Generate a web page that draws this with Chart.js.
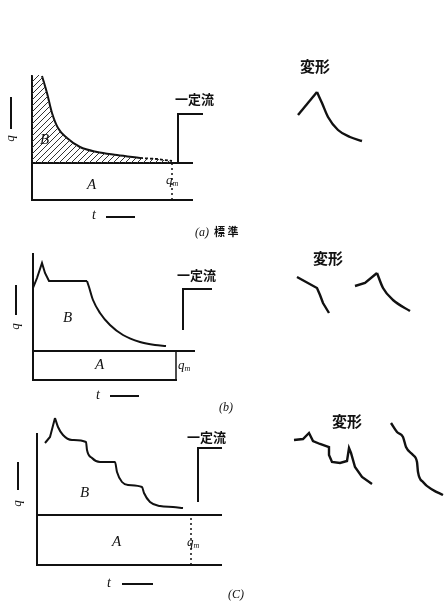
<!DOCTYPE html>
<html>
<head>
<meta charset="utf-8">
<script src="https://cdn.jsdelivr.net/npm/chart.js@4"></script>
<style>
html, body { margin: 0; padding: 0; background: #fff; }
#page { position: relative; width: 445px; height: 604px; overflow: hidden; }
canvas { position: absolute; left: 0; }
.lbl { position: absolute; font-family: "Noto Sans CJK JP", sans-serif; font-weight: 700; color: #111; white-space: nowrap; line-height: 1; }
.it { font-family: "Liberation Serif", serif; font-style: italic; font-weight: 400; }
.it sub { font-size: 8px; vertical-align: -2px; }
.rot { transform: rotate(-90deg); transform-origin: center; }
.dash { position: absolute; background: #111; }
</style>
</head>
<body>
<div id="page">
  <canvas id="rowA" width="445" height="240" style="top:0"></canvas>
  <canvas id="rowB" width="445" height="170" style="top:240px"></canvas>
  <canvas id="rowC" width="445" height="194" style="top:410px"></canvas>

  <!-- (a) -->
  <div class="lbl" style="left:175px;top:92px;font-size:13px">一定流</div>
  <div class="lbl" style="left:300px;top:58px;font-size:15px">変形</div>
  <div class="lbl it" style="left:40px;top:132px;font-size:15px">B</div>
  <div class="lbl it" style="left:87px;top:177px;font-size:15px">A</div>
  <div class="lbl it" style="left:166px;top:173px;font-size:13px">q<sub>m</sub></div>
  <div class="lbl it" style="left:92px;top:208px;font-size:14px">t</div>
  <div class="dash" style="left:106px;top:216px;width:29px;height:1.5px"></div>
  <div class="dash" style="left:10px;top:97px;width:1.5px;height:32px"></div>
  <div class="lbl it rot" style="left:6px;top:132px;font-size:13px">q</div>
  <div class="lbl" style="left:195px;top:226px;font-size:11px"><span class="it" style="font-size:12px">(a)</span>&nbsp;&nbsp;標&nbsp;準</div>

  <!-- (b) -->
  <div class="lbl" style="left:177px;top:268px;font-size:13px">一定流</div>
  <div class="lbl" style="left:313px;top:250px;font-size:15px">変形</div>
  <div class="lbl it" style="left:63px;top:310px;font-size:15px">B</div>
  <div class="lbl it" style="left:95px;top:357px;font-size:15px">A</div>
  <div class="lbl it" style="left:178px;top:358px;font-size:13px">q<sub>m</sub></div>
  <div class="lbl it" style="left:96px;top:388px;font-size:14px">t</div>
  <div class="dash" style="left:110px;top:395px;width:29px;height:1.5px"></div>
  <div class="dash" style="left:15px;top:285px;width:1.5px;height:30px"></div>
  <div class="lbl it rot" style="left:11px;top:320px;font-size:13px">q</div>
  <div class="lbl it" style="left:219px;top:401px;font-size:12px">(b)</div>

  <!-- (c) -->
  <div class="lbl" style="left:187px;top:430px;font-size:13px">一定流</div>
  <div class="lbl" style="left:332px;top:413px;font-size:15px">変形</div>
  <div class="lbl it" style="left:80px;top:485px;font-size:15px">B</div>
  <div class="lbl it" style="left:112px;top:534px;font-size:15px">A</div>
  <div class="lbl it" style="left:187px;top:535px;font-size:13px">q<sub>m</sub></div>
  <div class="lbl it" style="left:107px;top:576px;font-size:14px">t</div>
  <div class="dash" style="left:122px;top:583px;width:31px;height:1.5px"></div>
  <div class="dash" style="left:17px;top:462px;width:1.5px;height:28px"></div>
  <div class="lbl it rot" style="left:13px;top:497px;font-size:13px">q</div>
  <div class="lbl it" style="left:228px;top:588px;font-size:12px">(C)</div>
</div>

<script>
// (a) 標準 — t / q in arbitrary units
const aTMax = 161, aQMax = 125;
const aBaseQ = 37;               // q_m level
const aBaseEnd = 161;
const aMarkT = 140;              // dotted q_m marker
const aCurve = [[10,124],[15,107],[20,87],[26,72],[35,62],[48,53],[65,48],[85,45],[108,42]];
const aTail = [[108,42],[125,41],[140,39]];
const aStep = [[146,37],[146,86],[171,86]];
const aSketchUp = [[266,85],[285,108]];
const aSketchDown = [[285,108],[290,97],[296,83],[306,70],[318,63],[330,59]];

// (b)
const bTMax = 144, bQMax = 127;
const bBaseQ = 29;
const bBaseEnd = 162;
const bMarkT = 143;
const bRise = [[0,92],[4,102],[9,117],[12,107],[16,99],[54,99]];
const bDecay = [[54,99],[56,93],[60,80],[67,67],[77,55],[90,45],[107,38],[122,35],[133,34]];
const bStep = [[150,50],[150,91],[179,91]];
const bSketch1 = [[264,103],[284,92],[287,85],[290,77],[296,67]];
const bSketch2Up = [[322,94],[332,97],[344,107]];
const bSketch2Down = [[344,107],[350,92],[360,80],[377,69]];

// (c)
const cTMax = 185, cQMax = 132;
const cBaseQ = 50;
const cBaseEnd = 185;
const cMarkT = 154;
const cRise = [[8,122],[13,128],[18,147]];
const cDecay = [[18,147],[21,138],[26,130],[35,125],[49,123],[50,115],[55,107],[63,103],[78,103],[80,93],[85,83],[91,80],[105,78],[107,72],[113,63],[123,59],[136,58],[146,57]];
const cStep = [[161,63],[161,117],[185,117]];
const cSketch1 = [[257,125],[266,126],[272,132],[276,124],[283,121],[292,118],[292,110],[295,103],[303,102],[310,104],[312,117],[314,112],[318,98],[325,88],[335,81]];
const cSketch2 = [[354,142],[360,133],[366,128],[369,118],[376,110],[380,103],[381,93],[386,83],[396,75],[406,70]];

const ink = '#111';

function pts(arr) {
  return arr.map(p => ({ x: p[0], y: p[1] }));
}

function line(arr, extra) {
  return Object.assign({
    data: pts(arr), borderColor: ink, borderWidth: 2, pointRadius: 0,
    fill: false, clip: false, tension: 0
  }, extra || {});
}

const smooth = { cubicInterpolationMode: 'monotone' };
const dotted = { borderDash: [2, 3], borderWidth: 1.5 };

function hatch() {
  const c = document.createElement('canvas');
  c.width = 6; c.height = 6;
  const g = c.getContext('2d');
  g.strokeStyle = '#333';
  g.lineWidth = 1;
  g.beginPath();
  g.moveTo(0, 6); g.lineTo(6, 0);
  g.moveTo(-1, 1); g.lineTo(1, -1);
  g.moveTo(5, 7); g.lineTo(7, 5);
  g.stroke();
  return g.createPattern(c, 'repeat');
}

// the whole row is the plot area; the axes of each panel are drawn as data lines
function build(id, xRange, yRange, datasets) {
  new Chart(document.getElementById(id), {
    type: 'line',
    data: { datasets: datasets },
    options: {
      responsive: false,
      animation: false,
      events: [],
      layout: { padding: 0 },
      plugins: { legend: { display: false }, tooltip: { enabled: false } },
      scales: {
        x: { type: 'linear', min: xRange[0], max: xRange[1], display: false },
        y: { type: 'linear', min: yRange[0], max: yRange[1], display: false }
      }
    }
  });
}

build('rowA', [-32, 413], [-40, 200], [
  line([[0, aQMax], [10, aQMax]].concat(aCurve, aTail), {
    borderWidth: 0, backgroundColor: hatch(), fill: { value: aBaseQ }, ...smooth
  }),
  line([[0, aQMax], [0, 0], [aTMax, 0]]),
  line(aCurve, smooth),
  line(aTail, { borderDash: [3, 2], borderWidth: 1.8 }),
  line([[0, aBaseQ], [aBaseEnd, aBaseQ]]),
  line([[aMarkT, 0], [aMarkT, aBaseQ]], dotted),
  line(aStep),
  line(aSketchUp, { borderWidth: 2.4 }),
  line(aSketchDown, { borderWidth: 2.4, ...smooth })
]);

build('rowB', [-33, 412], [-30, 140], [
  line([[0, bQMax], [0, 0], [bTMax, 0]]),
  line(bRise),
  line(bDecay, smooth),
  line([[0, bBaseQ], [bBaseEnd, bBaseQ]]),
  line([[bMarkT, 0], [bMarkT, bBaseQ]], { borderWidth: 1.5 }),
  line(bStep),
  line(bSketch1, { borderWidth: 2.4 }),
  line(bSketch2Up, { borderWidth: 2.4 }),
  line(bSketch2Down, { borderWidth: 2.4, ...smooth })
]);

build('rowC', [-37, 408], [-39, 155], [
  line([[0, cQMax], [0, 0], [cTMax, 0]]),
  line(cRise),
  line(cDecay, smooth),
  line([[0, cBaseQ], [cBaseEnd, cBaseQ]]),
  line([[cMarkT, 0], [cMarkT, cBaseQ]], dotted),
  line(cStep),
  line(cSketch1, { borderWidth: 2.4 }),
  line(cSketch2, { borderWidth: 2.4, ...smooth })
]);
</script>
</body>
</html>
